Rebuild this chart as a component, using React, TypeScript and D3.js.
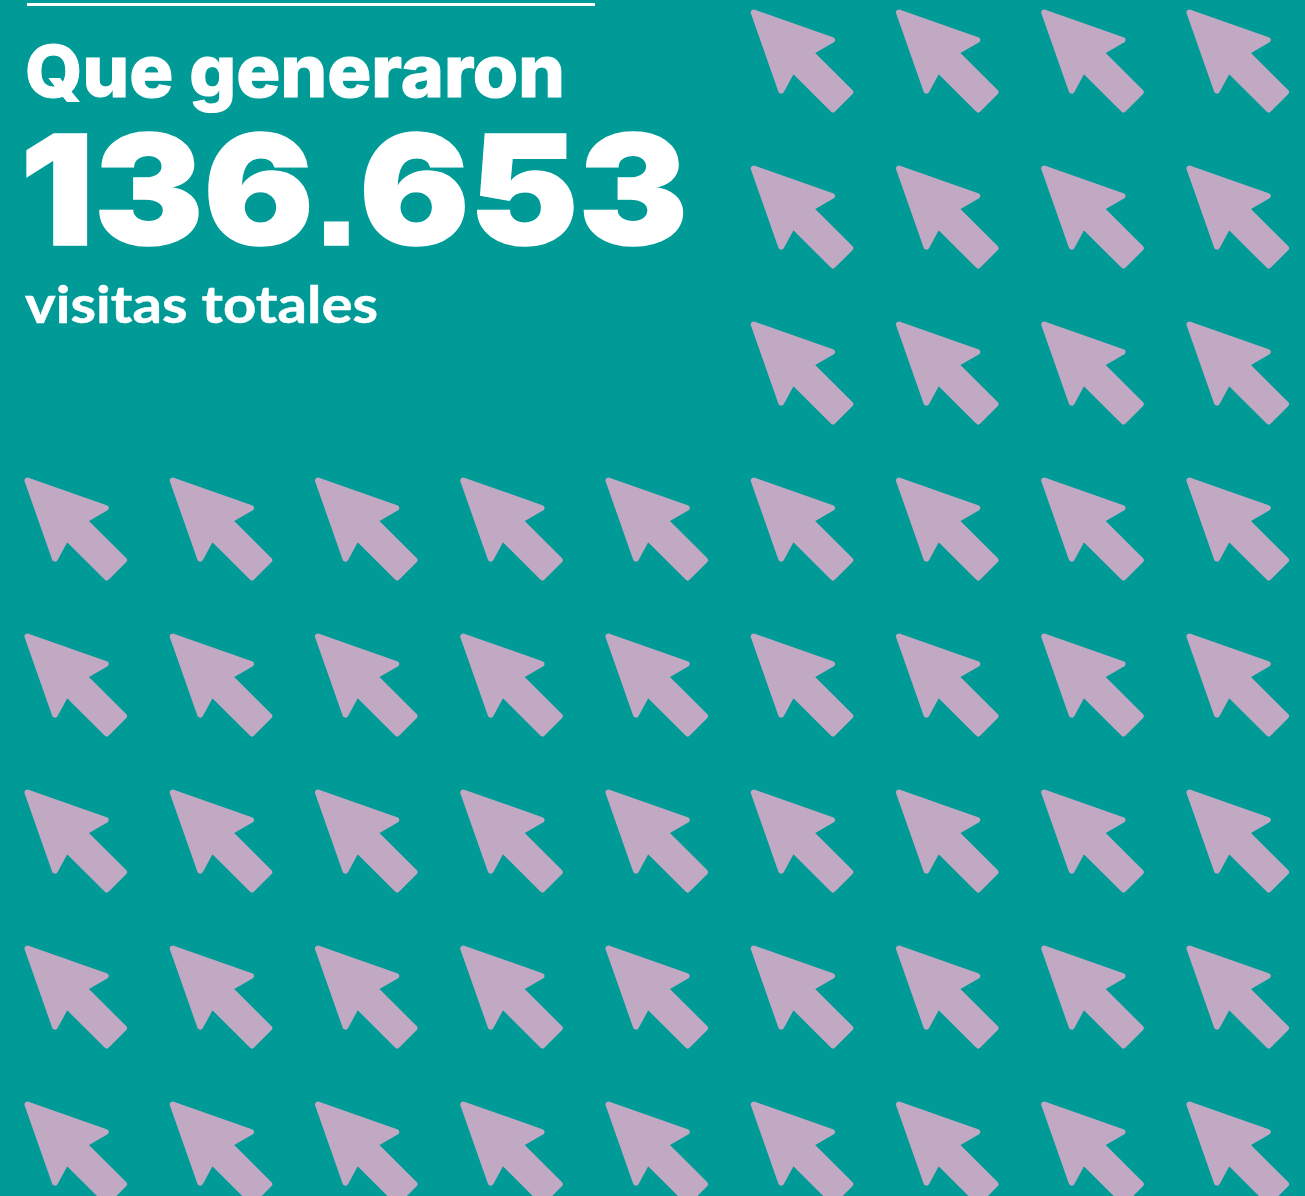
import { useEffect, useRef } from "react";
import * as d3 from "d3";

const width = 1305;
const height = 1196;

// how many cursors each row holds, right aligned on the nine column grid
const rowCounts = [4, 4, 4, 9, 9, 9, 9, 9];
const columns = [0, 1, 2, 3, 4, 5, 6, 7, 8];

const headingLabel = "Que generaron";
const totalParts = ["136", ".", "653"];
const unitLabel = "visitas totales";

const background = "#009a97";
const arrowColor = "#c1a9c4";

// cursor outline, inset a little because the round stroke adds the corners back
const cursorOutline: [number, number][] = [
  [3.5, 3.5],
  [81.7, 31],
  [60.1, 43.3],
  [100, 83.2],
  [82.7, 100.5],
  [42.5, 60.3],
  [31, 81.7],
];

export default function App() {
  const ref = useRef<SVGSVGElement>(null);

  useEffect(() => {
    const svg = d3.select(ref.current);
    svg.selectAll("*").remove();

    svg.append("rect").attr("width", width).attr("height", height).attr("fill", background);

    const x = d3.scalePoint<number>().domain(columns).range([24, 1186]);
    const y = d3.scalePoint<number>().domain(d3.range(rowCounts.length)).range([9, 1101]);
    const outline = d3.line().curve(d3.curveLinearClosed);

    const cells = rowCounts.flatMap((count, row) =>
      columns.slice(columns.length - count).map((col) => ({ row, col }))
    );

    svg.append("g")
      .selectAll("path")
      .data(cells)
      .join("path")
      .attr("transform", (d) => `translate(${x(d.col)},${y(d.row)})`)
      .attr("d", outline(cursorOutline))
      .attr("fill", arrowColor)
      .attr("stroke", arrowColor)
      .attr("stroke-width", 6)
      .attr("stroke-linejoin", "round");

    // rule above the heading
    svg.append("rect").attr("x", 27).attr("y", 3).attr("width", 568).attr("height", 3).attr("fill", "#fff");

    const addText = (
      label: string,
      px: number,
      py: number,
      size: number,
      family: string,
      weight: number,
      len: number,
      extra = 0
    ) =>
      svg.append("text")
        .attr("x", px)
        .attr("y", py)
        .attr("fill", "#fff")
        .attr("stroke", "#fff")
        .attr("stroke-width", extra)
        .style("font-family", family)
        .style("font-size", `${size}px`)
        .style("font-weight", weight)
        .attr("textLength", len)
        .attr("lengthAdjust", "spacingAndGlyphs")
        .text(label);

    addText(headingLabel, 25, 97, 72, "Inter, sans-serif", 800, 540, 1);

    // the total: Inter digits, but a square full stop from Liberation
    const total = addText("", 20, 245, 153, "Inter, sans-serif", 900, 668, 1.5);
    total.selectAll("tspan")
      .data(totalParts)
      .join("tspan")
      .style("font-family", (d) => (d === "." ? "'Liberation Sans', sans-serif" : "Inter, sans-serif"))
      .text((d) => d);

    addText(unitLabel, 25, 323, 52, "Lato, sans-serif", 700, 353, 0.5);
  }, []);

  return (
    <svg
      ref={ref}
      width={width}
      height={height}
      style={{ position: "absolute", left: 0, top: 0, display: "block" }}
    />
  );
}
